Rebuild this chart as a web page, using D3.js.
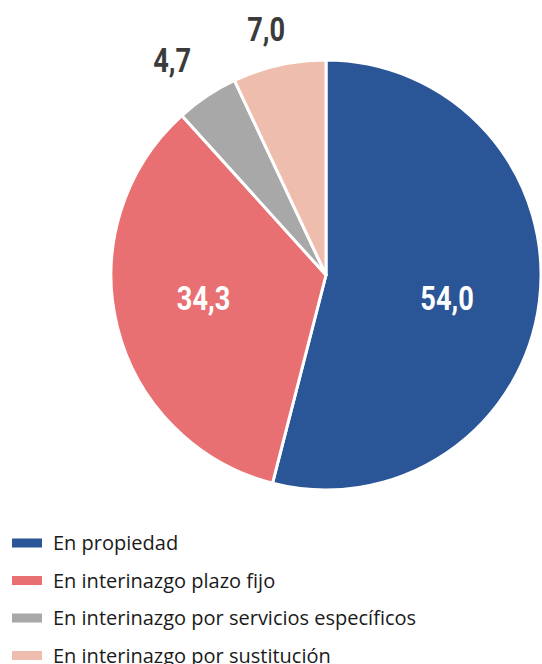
<!DOCTYPE html>
<html>
<head>
<meta charset="utf-8">
<script src="https://cdn.jsdelivr.net/npm/d3@7"></script>
<style>
  body { margin: 0; background: #fff; }
  svg { display: block; }
</style>
</head>
<body>
<script>
var categories = ['En propiedad', 'En interinazgo plazo fijo', 'En interinazgo por servicios específicos', 'En interinazgo por sustitución'];
var values = [54.0, 34.3, 4.7, 7.0];
var valueLabels = ['54,0', '34,3', '4,7', '7,0'];
var colors = ['#2a5597', '#e97072', '#a8a8a8', '#efbdae'];

var width = 542, height = 664,
    cx = 326, cy = 275, radius = 215;

var svg = d3.select('body').append('svg')
    .attr('width', width)
    .attr('height', height);

var pie = d3.pie().sort(null).value(function(d) { return d; });
var arcs = pie(values);

var arc = d3.arc().innerRadius(0).outerRadius(radius);
var innerLabelArc = d3.arc().innerRadius(0).outerRadius(244);
var outerLabelArc = d3.arc().innerRadius(256).outerRadius(256);

// small hand nudges so labels sit where the original puts them
var nudge = [[0, 0], [-4, 0], [-12, -2], [-4, 4]];

var g = svg.append('g').attr('transform', 'translate(' + cx + ',' + cy + ')');

g.selectAll('path.slice')
    .data(arcs)
    .enter().append('path')
    .attr('class', 'slice')
    .attr('d', arc)
    .attr('fill', function(d, i) { return colors[i]; })
    .attr('stroke', '#fff')
    .attr('stroke-width', 3)
    .attr('stroke-linejoin', 'round');

// big slices get white labels inside, small ones dark labels outside
g.selectAll('text.val')
    .data(arcs)
    .enter().append('text')
    .attr('class', 'val')
    .attr('transform', function(d, i) {
        var big = d.value > 20;
        var c = big ? innerLabelArc.centroid(d) : outerLabelArc.centroid(d);
        if (big) c[1] = 23;
        c[0] += nudge[i][0];
        c[1] += nudge[i][1];
        return 'translate(' + c[0] + ',' + c[1] + ') scale(0.8,1)';
    })
    .attr('text-anchor', 'middle')
    .attr('dominant-baseline', 'central')
    .attr('font-family', 'Roboto, sans-serif')
    .attr('font-weight', 'bold')
    .attr('font-size', 34)
    .attr('fill', function(d) { return d.value > 20 ? '#fff' : '#3b3b3b'; })
    .text(function(d, i) { return valueLabels[i]; });

var legend = svg.append('g').attr('transform', 'translate(12,543)');
var rowStep = 37.5;

var rows = legend.selectAll('g.row')
    .data(categories)
    .enter().append('g')
    .attr('class', 'row')
    .attr('transform', function(d, i) { return 'translate(0,' + (i * rowStep) + ')'; });

rows.append('rect')
    .attr('x', 0).attr('y', -4.5)
    .attr('width', 30).attr('height', 9)
    .attr('fill', function(d, i) { return colors[i]; });

rows.append('text')
    .attr('x', 41)
    .attr('y', 7)
    .attr('font-family', '"Open Sans", sans-serif')
    .attr('font-size', 20)
    .attr('fill', '#1a1a1a')
    .text(function(d) { return d; });
</script>
</body>
</html>
